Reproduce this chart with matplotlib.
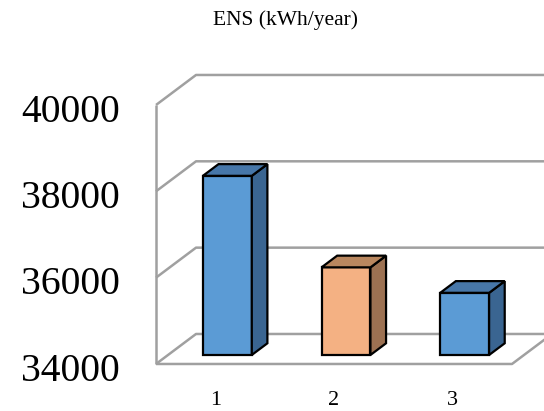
"""ENS per case, drawn as an Excel-style 3D column chart."""

import matplotlib.pyplot as plt
from matplotlib.patches import Polygon

categories = ["1", "2", "3"]
ens_values = [38150, 36030, 35440]
y_ticks = [34000, 36000, 38000, 40000]

front_colors = ["#5B9BD5", "#F4B183", "#5B9BD5"]
side_colors = ["#3A6591", "#9C7152", "#3A6591"]
top_colors = ["#4777A9", "#B9875F", "#4777A9"]

GRID = "#A0A0A0"
SERIF = ["Liberation Serif", "DejaVu Serif"]

fig = plt.figure(figsize=(5.44, 4.11), dpi=100)
ax = fig.add_axes([0.2868, 0.1144, 0.6544, 0.6302])
ax.set_xlim(0.5, 3.5)
ax.set_ylim(y_ticks[0], y_ticks[-1])
ax.axis("off")

# depth vector of the box (40 px right, 30 px up) in data units
x0, y0 = ax.transData.transform((0.5, y_ticks[0]))
bx, by = ax.transData.inverted().transform((x0 + 40, y0 + 30))
DX, DY = bx - 0.5, by - y_ticks[0]


def pt(x, y, d):
    return (x + d * DX, y + d * DY)


def line(points, **kw):
    xs, ys = zip(*points)
    ax.plot(xs, ys, color=GRID, lw=1.8, clip_on=False,
            solid_capstyle="butt", **kw)


x_left, x_right = 0.5, 3.5
ymin = y_ticks[0]

# back wall gridlines and left wall
for t in y_ticks:
    line([pt(x_left, t, 0), pt(x_left, t, 1), pt(x_right, t, 1)])
line([pt(x_left, ymin, 0), pt(x_left, y_ticks[-1], 0)])
# floor front and right edges
line([pt(x_left, ymin, 0), pt(x_right, ymin, 0), pt(x_right, ymin, 1)])

# columns
half_w = 0.206
d_front, d_back = 0.3, 0.69
for i, v in enumerate(ens_values):
    c = i + 1
    xl, xr = c - half_w, c + half_w
    faces = [
        ([pt(xl, ymin, d_front), pt(xr, ymin, d_front),
          pt(xr, v, d_front), pt(xl, v, d_front)], front_colors[i]),
        ([pt(xr, ymin, d_front), pt(xr, ymin, d_back),
          pt(xr, v, d_back), pt(xr, v, d_front)], side_colors[i]),
        ([pt(xl, v, d_front), pt(xr, v, d_front),
          pt(xr, v, d_back), pt(xl, v, d_back)], top_colors[i]),
    ]
    for verts, fc in faces:
        ax.add_patch(Polygon(verts, closed=True, facecolor=fc,
                             edgecolor="black", lw=1.6, joinstyle="miter",
                             clip_on=False, zorder=3))

# value labels on the front edge of the left wall
for t in y_ticks:
    ax.annotate(f"{t}", (x_left, t), xytext=(-26, -12),
                textcoords="offset points", ha="right", va="baseline",
                fontsize=28.5, family=SERIF, color="black",
                annotation_clip=False)

# category labels under the floor
for i, name in enumerate(categories):
    ax.annotate(name, (i + 1, ymin), xytext=(0, -29.5),
                textcoords="offset points", ha="center", va="baseline",
                fontsize=16, family=SERIF, color="black",
                annotation_clip=False)

fig.text(0.525, 0.939, "ENS (kWh/year)", ha="center", va="baseline",
         fontsize=15.5, family=SERIF, color="black")

fig.savefig("out.png", dpi=100)
